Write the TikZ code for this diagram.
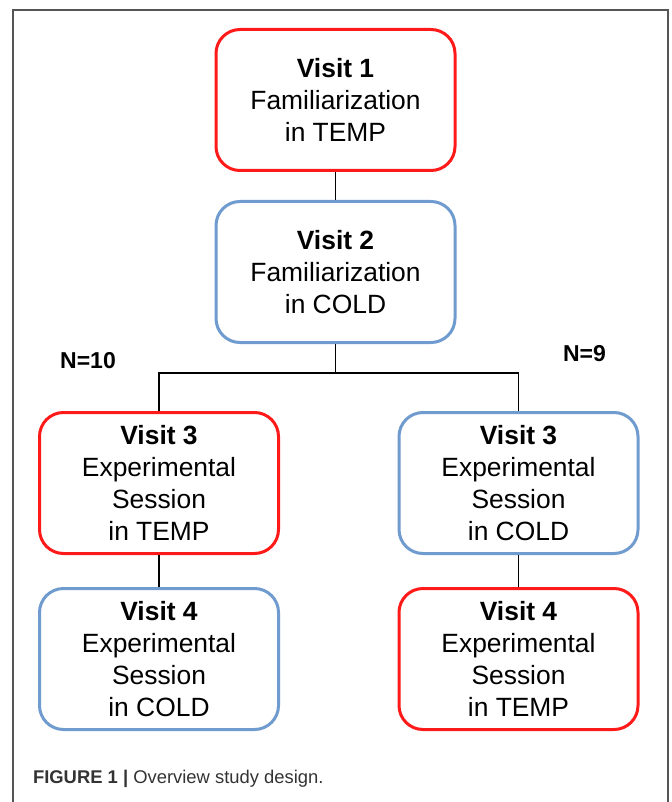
\documentclass[tikz,border=0pt]{standalone}
\usepackage{fontspec}
\setmainfont{Liberation Sans}
\usetikzlibrary{positioning,calc}
\definecolor{tempred}{HTML}{FF1A1A}
\definecolor{coldblue}{HTML}{6F9BCF}
\definecolor{framegray}{HTML}{555555}
\definecolor{capgray}{HTML}{333333}

\begin{document}
\begin{tikzpicture}[node distance=14pt,every node/.style={font=\fontsize{13.2}{16}\selectfont},visit/.style={draw,line width=1.5pt,rounded corners=12pt,fill=white,align=center,minimum width=119.5pt,minimum height=70.5pt,inner sep=2pt},temp/.style={visit,draw=tempred},cold/.style={visit,draw=coldblue},link/.style={line width=0.75pt,black},count/.style={font=\fontsize{11.5}{14}\selectfont\bfseries}]
\useasboundingbox (0,0) rectangle (336pt,-401pt);
\draw[framegray,line width=0.6pt] (6.5pt,-401pt) -- (6.5pt,-5pt) -- (334pt,-5pt) -- (334pt,-401pt);
\node[temp] (v1) at (167.75pt,-50pt) {\textbf{Visit 1}\\Familiarization\\in TEMP};
\node[cold,below=of v1] (v2) {\textbf{Visit 2}\\Familiarization\\in COLD};
\coordinate[below=14.5pt of v2.south] (split);
\node[temp,below=33.5pt of v2,xshift=-88.25pt] (v3l) {\textbf{Visit 3}\\Experimental\\Session\\in TEMP};
\node[cold,below=33.5pt of v2,xshift=91.5pt] (v3r) {\textbf{Visit 3}\\Experimental\\Session\\in COLD};
\node[cold,below=16pt of v3l] (v4l) {\textbf{Visit 4}\\Experimental\\Session\\in COLD};
\node[temp,below=16pt of v3r] (v4r) {\textbf{Visit 4}\\Experimental\\Session\\in TEMP};
\node[count] (n10) at ($(v3l.north west)+(25pt,25pt)$) {N=10};
\node[count] (n9) at ($(v3r.north east)+(-27.5pt,28.5pt)$) {N=9};
\draw[link] (v1) -- (v2);
\draw[link] (v2) -- (split) -| (v3l);
\draw[link] (split) -| (v3r);
\draw[link] (v3l) -- (v4l);
\draw[link] (v3r) -- (v4r);
\node[anchor=west,text=capgray,font=\fontsize{9.2}{11}\selectfont] (cap) at (13pt,-389.5pt) {\textbf{FIGURE 1 |} Overview study design.};
\end{tikzpicture}
\end{document}
